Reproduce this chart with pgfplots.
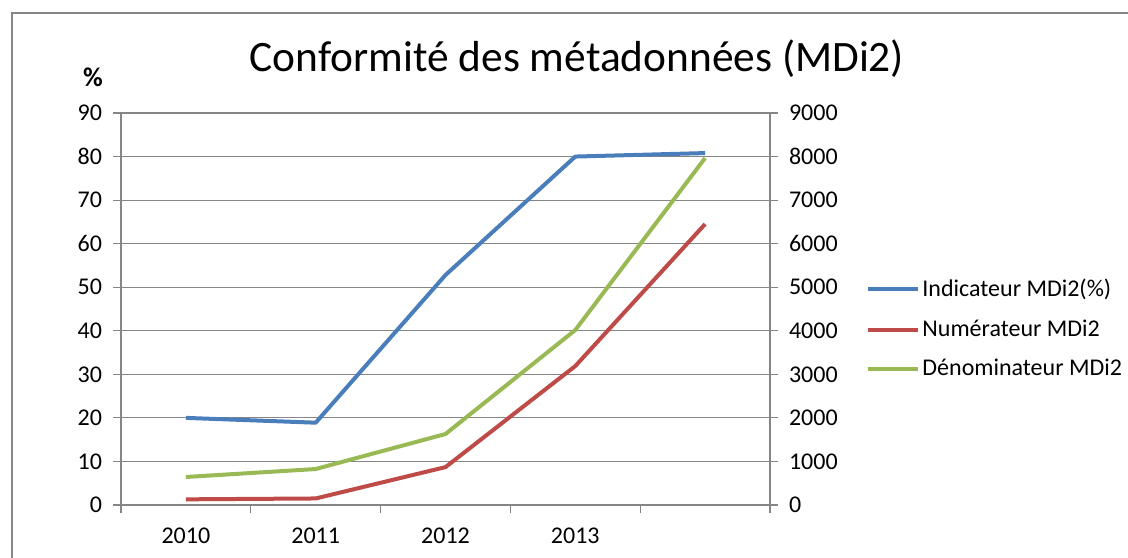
\documentclass[border=0pt]{standalone}
\usepackage{pgfplots}
\pgfplotsset{compat=1.18}
\usepackage{fontspec}
\setmainfont{Carlito}
\definecolor{cblue}{HTML}{4A7EBB}
\definecolor{cred}{HTML}{BE4B48}
\definecolor{cgreen}{HTML}{98B954}
\definecolor{cgrid}{HTML}{868686}
\pgfplotsset{
  myaxis/.style={
    scale only axis, width=324.5pt, height=196pt,
    at={(60.5pt,26pt)}, anchor=south west,
    xmin=0.5, xmax=5.5,
    ticklabel style={font=\fontsize{12}{13}\selectfont},
    /pgf/number format/assume math mode=true,
    /pgf/number format/1000 sep={},
    axis line style={cgrid, line width=0.6pt},
    tick style={cgrid, line width=0.6pt},
    tick align=outside, major tick length=4pt, minor tick length=4pt,
  }
}
\begin{document}
\begin{tikzpicture}
\useasboundingbox (0,0) rectangle (564pt,278.5pt);
\draw[cgrid, line width=1pt] (6pt,-20pt) -- (6pt,272pt) -- (600pt,272pt);
\node[font=\fontsize{21.7}{24}\selectfont] at (288.5pt,249pt) {Conformité des métadonnées (MDi2)};
\node[font=\fontsize{13.5}{15}\selectfont\bfseries] at (46.5pt,240pt) {\%};
\begin{axis}[myaxis,
  ymin=0, ymax=90, ytick={0,10,...,90},
  axis x line*=bottom, axis y line*=left,
  ymajorgrids, grid style={cgrid, line width=0.6pt},
  xtick={1,2,3,4}, xticklabels={2010,2011,2012,2013},
  major x tick style={draw=none},
  minor xtick={0.5,1.5,...,5.5},
  xticklabel style={yshift=-4pt},
  yticklabel style={xshift=-2pt},
]
\addplot[cblue, line width=2pt, line join=round] coordinates {(1,20) (2,18.9) (3,52.8) (4,80) (5,80.8)};
\end{axis}
\begin{axis}[myaxis,
  ymin=0, ymax=9000, ytick={0,1000,...,9000},
  axis y line*=right, axis x line=none,
  scaled y ticks=false,
  yticklabel style={xshift=2pt},
  legend style={draw=none, fill=none, at={(1.148,0.449)}, anchor=west,
    font=\fontsize{12}{13}\selectfont, row sep=8pt, inner sep=0pt,
    nodes={inner sep=1pt}},
  legend cell align=left,
  legend image code/.code={\draw[#1] (0pt,0pt) -- (25pt,0pt);},
]
\addlegendimage{cblue, line width=2pt}
\addlegendentry{Indicateur MDi2(\%)}
\addplot[cred, line width=2pt, line join=round] coordinates {(1,130) (2,150) (3,870) (4,3190) (5,6450)};
\addlegendentry{Numérateur MDi2}
\addplot[cgreen, line width=2pt, line join=round] coordinates {(1,643) (2,826) (3,1630) (4,4017) (5,7966)};
\addlegendentry{Dénominateur MDi2}
\end{axis}
\end{tikzpicture}
\end{document}
